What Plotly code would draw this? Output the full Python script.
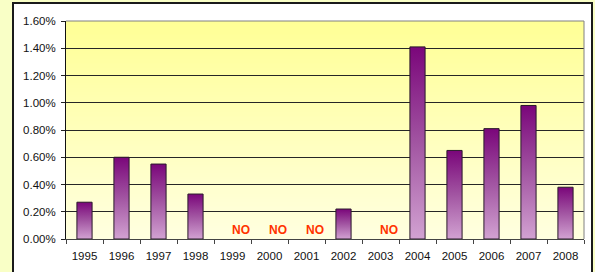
import base64, struct, zlib
import plotly.graph_objects as go

# ---- data ----
years = ["1995", "1996", "1997", "1998", "1999", "2000", "2001",
         "2002", "2003", "2004", "2005", "2006", "2007", "2008"]
rates_pct = [0.27, 0.60, 0.55, 0.33, None, None, None,
             0.22, None, 1.41, 0.65, 0.81, 0.98, 0.38]
missing_label = "NO"
y_ticks_pct = [0.0, 0.2, 0.4, 0.6, 0.8, 1.0, 1.2, 1.4, 1.6]

# ---- style ----
W, H = 595, 272
ML, MR, MT, MB = 66, 11, 21, 33
PW, PH = W - ML - MR, H - MT - MB
FONT = "Liberation Sans, Arial, sans-serif"
OUTER_BG = "#F9FFC6"
BAR_HALF = 0.205


def px_x(px):
    return (px - ML) / PW


def px_y(py):
    return (H - MB - py) / PH


def gradient_png(top, bottom, n=128):
    raw = b""
    for i in range(n):
        t = i / (n - 1)
        c = bytes(int(round(a * (1 - t) + b * t)) for a, b in zip(top, bottom))
        raw += b"\x00" + c

    def chunk(tag, data):
        return (struct.pack(">I", len(data)) + tag + data +
                struct.pack(">I", zlib.crc32(tag + data) & 0xFFFFFFFF))

    png = (b"\x89PNG\r\n\x1a\n" +
           chunk(b"IHDR", struct.pack(">IIBBBBB", 1, n, 8, 2, 0, 0, 0)) +
           chunk(b"IDAT", zlib.compress(raw)) +
           chunk(b"IEND", b""))
    return "data:image/png;base64," + base64.b64encode(png).decode()


fig = go.Figure()

# bars drawn as gradient-filled polygons on a linear axis
for i, v in enumerate(rates_pct):
    if v is None:
        continue
    val = v / 100.0
    fig.add_trace(go.Scatter(
        x=[i - BAR_HALF, i - BAR_HALF, i + BAR_HALF, i + BAR_HALF, i - BAR_HALF],
        y=[0, val, val, 0, 0],
        mode="lines",
        fill="toself",
        line=dict(color="#2a1a2a", width=1),
        fillgradient=dict(type="vertical",
                          colorscale=[[0, "#D2A2D2"], [0.5, "#A255A2"], [1, "#7A067A"]]),
        hoverinfo="skip",
        showlegend=False,
    ))

annotations = []
for i, v in enumerate(rates_pct):
    if v is None:
        annotations.append(dict(
            x=i, y=0, xref="x", yref="y", text=missing_label, showarrow=False,
            xshift=8, yshift=9.5, yanchor="middle",
            font=dict(family=FONT, size=12, color="#FF3300", weight="bold"),
        ))

shapes = [
    # outer yellow strips around the white chart box
    dict(type="rect", xref="paper", yref="paper", layer="below",
         x0=px_x(-5), x1=px_x(12), y0=px_y(280), y1=px_y(-5),
         fillcolor=OUTER_BG, line=dict(width=0)),
    dict(type="rect", xref="paper", yref="paper", layer="below",
         x0=px_x(-5), x1=px_x(600), y0=px_y(2), y1=px_y(-5),
         fillcolor=OUTER_BG, line=dict(width=0)),
    dict(type="rect", xref="paper", yref="paper", layer="below",
         x0=px_x(593), x1=px_x(600), y0=px_y(280), y1=px_y(-5),
         fillcolor=OUTER_BG, line=dict(width=0)),
    # chart box border
    dict(type="rect", xref="paper", yref="paper", layer="above",
         x0=px_x(13), x1=px_x(592), y0=px_y(290), y1=px_y(3),
         fillcolor="rgba(0,0,0,0)", line=dict(color="#1a1a1a", width=2)),
    # plot area right/top border
    dict(type="line", xref="paper", yref="paper", layer="above",
         x0=1, x1=1, y0=0, y1=1, line=dict(color="#808080", width=1)),
    dict(type="line", xref="paper", yref="paper", layer="above",
         x0=0, x1=1, y0=1, y1=1, line=dict(color="#808080", width=1)),
]

images = [dict(
    source=gradient_png((255, 255, 150), (255, 255, 224)),
    xref="paper", yref="paper", x=0, y=1, sizex=1, sizey=1,
    sizing="stretch", xanchor="left", yanchor="top", layer="below",
)]

fig.update_layout(
    width=W, height=H,
    margin=dict(l=ML, r=MR, t=MT, b=MB, pad=0),
    paper_bgcolor="white",
    plot_bgcolor="rgba(0,0,0,0)",
    font=dict(family=FONT, size=11.5, color="#111"),
    showlegend=False,
    shapes=shapes,
    images=images,
    annotations=annotations,
    xaxis=dict(
        range=[-0.5, len(years) - 0.5],
        tickmode="array",
        tickvals=list(range(len(years))),
        ticktext=years,
        ticks="",
        showgrid=False,
        zeroline=False,
        showline=True, linecolor="#444", linewidth=1,
        ticklabelstandoff=6,
        minor=dict(tickmode="linear", tick0=-0.5, dtick=1, ticks="outside",
                   ticklen=4, tickcolor="#444", tickwidth=1, showgrid=False),
        fixedrange=True,
    ),
    yaxis=dict(
        range=[0, y_ticks_pct[-1] / 100.0],
        tickmode="array",
        tickvals=[t / 100.0 for t in y_ticks_pct],
        ticktext=[f"{t:.2f}%" for t in y_ticks_pct],
        ticks="outside", ticklen=4, tickcolor="#222", tickwidth=1,
        showgrid=True, gridcolor="#262626", gridwidth=1,
        zeroline=False,
        showline=True, linecolor="#111", linewidth=1,
        ticklabelstandoff=3,
        fixedrange=True,
    ),
)

fig.write_html("out.html",
               config={"displayModeBar": False, "staticPlot": True},
               post_script="document.body.style.margin='0';document.body.style.overflow='hidden';")
